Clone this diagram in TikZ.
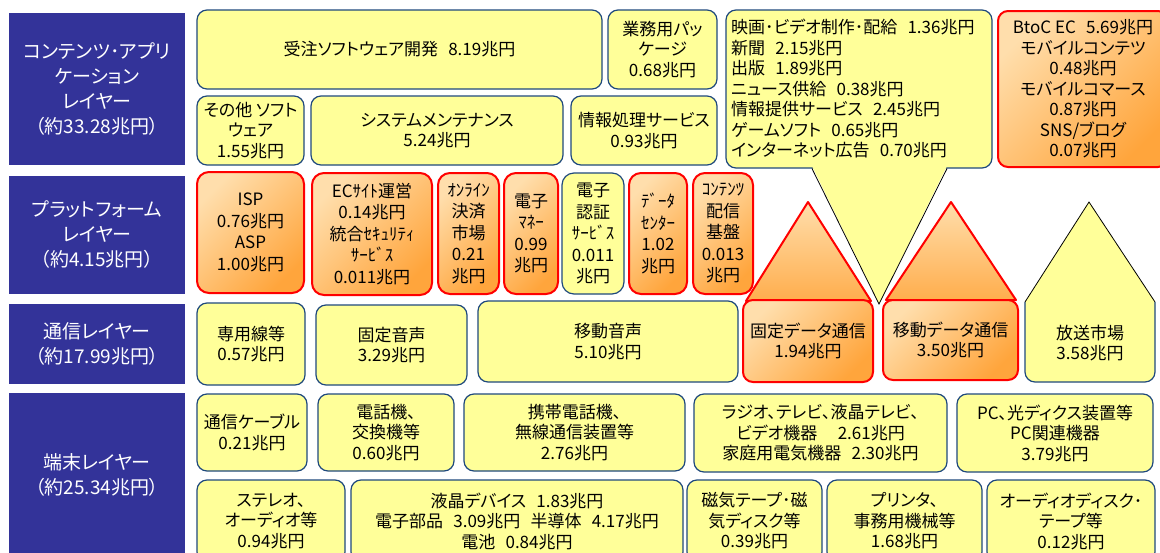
\documentclass[tikz,border=0pt]{standalone}
\usepackage{fontspec}
\setmainfont{Noto Sans CJK JP}[RawFeature={+palt}]
\definecolor{layerblue}{RGB}{51,51,153}
\definecolor{yfill}{RGB}{255,255,153}
\definecolor{navyb}{RGB}{31,73,125}
\definecolor{oL}{RGB}{255,222,172}
\definecolor{oR}{RGB}{255,165,60}
\newcommand\fs{\fontsize{17}{20.5}\selectfont}
\newcommand\pfs{\fontsize{17}{21.5}\selectfont}
\newcommand\lfs{\fontsize{19}{25}\selectfont}
\newcommand\jgap{\hspace{0.6em}}
\newcommand\bx[7]{\node[#1, minimum width={#5-#3}, minimum height={#6-#4}] (#2) at ({(#3+#5)/2},{(#4+#6)/2}) {#7};}
\tikzset{
  basebox/.style={rectangle, rounded corners=10pt, align=center, inner sep=0pt, font=\fs},
  ybox/.style={basebox, draw=navyb, line width=1.2pt, fill=yfill},
  obox/.style={basebox, draw=red, line width=2pt, top color=oL, bottom color=oR, shading angle=45},
  pobox/.style={obox, font=\pfs, rounded corners=12pt},
  pybox/.style={ybox, font=\pfs, rounded corners=12pt},
  layer/.style={rectangle, fill=layerblue, text=white, align=center, inner sep=0pt, font=\lfs},
  otri/.style={draw=red, line width=2pt, line join=round, top color=oL, bottom color=oR!85!oL},
}
\begin{document}
\begin{tikzpicture}[x=1pt,y=-1pt]
\useasboundingbox (0,0) rectangle (1160,552);
\clip (0,0) rectangle (1160,552);
\fill[white] (0,0) rectangle (1160,552);

% layer labels
\bx{layer}{L1}{9}{13}{185}{165}{コンテンツ･アプリ\\ケーション\\レイヤー\\（約33.28兆円）}
\bx{layer}{L2}{9}{176}{185}{294}{プラットフォーム\\レイヤー\\（約4.15兆円）}
\bx{layer}{L3}{9}{304}{185}{384}{通信レイヤー\\（約17.99兆円）}
\bx{layer}{L4}{9}{393}{185}{557}{端末レイヤー\\（約25.34兆円）}

% contents / application layer
\bx{ybox}{jutaku}{197}{10}{602}{89}{受注ソフトウェア開発\jgap 8.19兆円}
\bx{ybox}{gyomu}{608}{10}{717}{89}{業務用パッ\\ケージ\\0.68兆円}
\bx{ybox}{sonota}{197}{96}{304}{165}{その他 ソフト\\ウェア\\1.55兆円}
\bx{ybox}{system}{311}{96}{563}{165}{システムメンテナンス\\5.24兆円}
\bx{ybox}{joho}{571}{96}{717}{165}{情報処理サービス\\0.93兆円}

% callout
\bx{ybox}{callout}{726}{10}{992}{168}{}
\coordinate (tailL) at (812,166);
\coordinate (tailR) at (947,166);
\coordinate (tailtip) at (879,304);
\fill[yfill] (tailL) -- (tailtip) -- (tailR) -- cycle;
\draw[black, line width=0.8pt] (812,168.6) -- (tailtip) -- (947,168.6);
\node[anchor=west, align=left, inner sep=0pt, font=\fs] (callouttext) at (731,89)
 {映画･ビデオ制作･配給\jgap 1.36兆円\\新聞\jgap 2.15兆円\\出版\jgap 1.89兆円\\ニュース供給\jgap 0.38兆円\\情報提供サービス\jgap 2.45兆円\\ゲームソフト\jgap 0.65兆円\\インターネット広告\jgap 0.70兆円};

\bx{obox}{btoc}{998}{11}{1168}{167}{BtoC EC\jgap 5.69兆円\\モバイルコンテツ\\0.48兆円\\モバイルコマース\\0.87兆円\\SNS/ブログ\\0.07兆円}

% platform layer
\bx{pobox}{isp}{197}{172}{304}{293}{ISP\\0.76兆円\\ASP\\1.00兆円}
\bx{pobox}{ecsite}{312}{173}{432}{295}{ECｻｲﾄ運営\\0.14兆円\\統合ｾｷｭﾘﾃｨ\\ｻｰﾋﾞｽ\\0.011兆円}
\bx{pobox}{online}{438}{173}{499}{294}{ｵﾝﾗｲﾝ\\決済\\市場\\0.21\\兆円}
\bx{pobox}{emoney}{504}{173}{558}{294}{電子\\ﾏﾈｰ\\0.99\\兆円}
\bx{pybox}{eauth}{562}{173}{624}{294}{電子\\認証\\ｻｰﾋﾞｽ\\0.011\\兆円}
\bx{pobox}{datac}{629}{173}{687}{294}{ﾃﾞｰﾀ\\ｾﾝﾀｰ\\1.02\\兆円}
\bx{pobox}{cdn}{693}{173}{753}{294}{ｺﾝﾃﾝﾂ\\配信\\基盤\\0.013\\兆円}

% communication layer
\bx{ybox}{senyo}{197}{303}{305}{385}{専用線等\\0.57兆円}
\bx{ybox}{koteion}{316}{305}{467}{385}{固定音声\\3.29兆円}
\bx{ybox}{idoon}{478}{301}{738}{382}{移動音声\\5.10兆円}

\filldraw[otri] (746,301) -- (808,202) -- (871,301) -- cycle;
\bx{obox}{fixdata}{743}{300}{873}{382}{固定データ通信\\1.94兆円}
\filldraw[otri] (886,300) -- (951,202) -- (1016,300) -- cycle;
\bx{obox}{mobdata}{883}{300}{1018}{380}{移動データ通信\\3.50兆円}

\fill[yfill] (1025,302) -- (1089,202) -- (1155,302) -- (1155,372) arc[start angle=0, end angle=90, radius=10] -- (1035,382) arc[start angle=90, end angle=180, radius=10] -- cycle;
\draw[black, line width=0.8pt] (1025,302) -- (1089,202) -- (1155,302);
\draw[navyb, line width=1.2pt] (1155,302) -- (1155,372) arc[start angle=0, end angle=90, radius=10] -- (1035,382) arc[start angle=90, end angle=180, radius=10] -- (1025,302);
\node[align=center, inner sep=0pt, font=\fs] (broadcast) at (1090,343) {放送市場\\3.58兆円};

% terminal layer
\bx{ybox}{cable}{197}{394}{307}{471}{通信ケーブル\\0.21兆円}
\bx{ybox}{phone}{318}{394}{454}{471}{電話機、\\交換機等\\0.60兆円}
\bx{ybox}{mobile}{464}{394}{685}{471}{携帯電話機、\\無線通信装置等\\2.76兆円}
\bx{ybox}{radio}{694}{394}{947}{472}{ラジオ、テレビ、液晶テレビ、\\ビデオ機器\jgap\jgap 2.61兆円\\家庭用電気機器\jgap 2.30兆円}
\bx{ybox}{pc}{957}{394}{1153}{472}{PC、光ディクス装置等\\PC関連機器\\3.79兆円}

\bx{ybox}{stereo}{197}{480}{345}{562}{ステレオ、\\オーディオ等\\0.94兆円}
\bx{ybox}{lcd}{351}{480}{683}{562}{液晶デバイス\jgap 1.83兆円\\電子部品\jgap 3.09兆円\jgap 半導体\jgap 4.17兆円\\電池\jgap 0.84兆円}
\bx{ybox}{magnetic}{687}{480}{822}{562}{磁気テープ･磁\\気ディスク等\\0.39兆円}
\bx{ybox}{printer}{827}{480}{982}{562}{プリンタ、\\事務用機械等\\1.68兆円}
\bx{ybox}{audiodisk}{987}{480}{1155}{562}{オーディオディスク･\\テープ等\\0.12兆円}
\end{tikzpicture}
\end{document}
